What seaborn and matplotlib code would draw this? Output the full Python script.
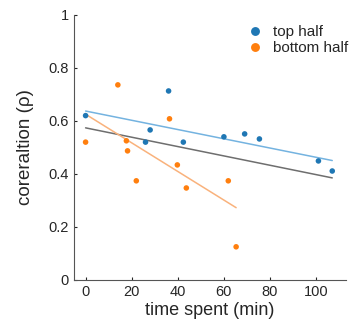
import numpy as np
import pandas as pd
import matplotlib
matplotlib.use("Agg")
import matplotlib.pyplot as plt
import seaborn as sns

top_time = [0, 26, 28, 36, 42.4, 60, 69, 75.4, 101, 107]
top_corr = [0.62, 0.52, 0.566, 0.713, 0.52, 0.54, 0.551, 0.532, 0.449, 0.411]
bottom_time = [0, 14, 17.7, 18.2, 22, 36.4, 39.8, 43.7, 61.9, 65.3]
bottom_corr = [0.52, 0.736, 0.525, 0.487, 0.374, 0.608, 0.434, 0.347, 0.374, 0.125]
groups = ["top half", "bottom half"]

def build_frame():
    top = pd.DataFrame({"time": top_time, "corr": top_corr, "group": groups[0]})
    bottom = pd.DataFrame({"time": bottom_time, "corr": bottom_corr, "group": groups[1]})
    return pd.concat([top, bottom], ignore_index=True)

def plot_data(df):
    sns.set_style("ticks")
    plt.rcParams["font.family"] = ["Liberation Sans", "DejaVu Sans"]
    fig = plt.figure(figsize=(3.51, 3.24), dpi=100)
    ax = fig.add_axes([0.211, 0.136, 0.775, 0.818])

    dot_colors = {"top half": "#1f77b4", "bottom half": "#ff7f0e"}
    line_colors = {"top half": "#74b3e0", "bottom half": "#f9b27c"}

    # fit lines: each group and all together
    sns.regplot(x="time", y="corr", data=df, scatter=False, ci=None, truncate=True,
                color="#6e6e6e", line_kws={"lw": 1.1}, ax=ax)
    for g in groups:
        sns.regplot(x="time", y="corr", data=df[df["group"] == g], scatter=False, ci=None,
                    truncate=True, color=line_colors[g], line_kws={"lw": 1.1}, ax=ax)

    sns.scatterplot(x="time", y="corr", hue="group", data=df, palette=dot_colors,
                    s=16, linewidth=0, ax=ax, zorder=5)

    ax.set_xlim(-5, 113)
    ax.set_ylim(0, 1)
    ax.set_xticks([0, 20, 40, 60, 80, 100])
    ax.set_yticks([0, 0.2, 0.4, 0.6, 0.8, 1])
    ax.set_yticklabels(["0", "0.2", "0.4", "0.6", "0.8", "1"])
    ax.tick_params(direction="in", length=2.5, width=0.8, labelsize=10.5, colors="#262626", pad=4)
    ax.set_xlabel("time spent (min)", fontsize=13, labelpad=2)
    ax.set_ylabel("coreraltion (\u03c1)", fontsize=13.5, labelpad=10)
    sns.despine(ax=ax)
    for side in ["left", "bottom"]:
        ax.spines[side].set_color("#555555")
        ax.spines[side].set_linewidth(0.8)

    ax.legend(loc="upper right", frameon=False, fontsize=11, handletextpad=0.2,
              borderaxespad=0.0, labelspacing=0.15, markerscale=1.6,
              bbox_to_anchor=(1.03, 0.985))
    fig.savefig("out.png", dpi=100)

if __name__ == "__main__":
    df = build_frame()
    plot_data(df)
